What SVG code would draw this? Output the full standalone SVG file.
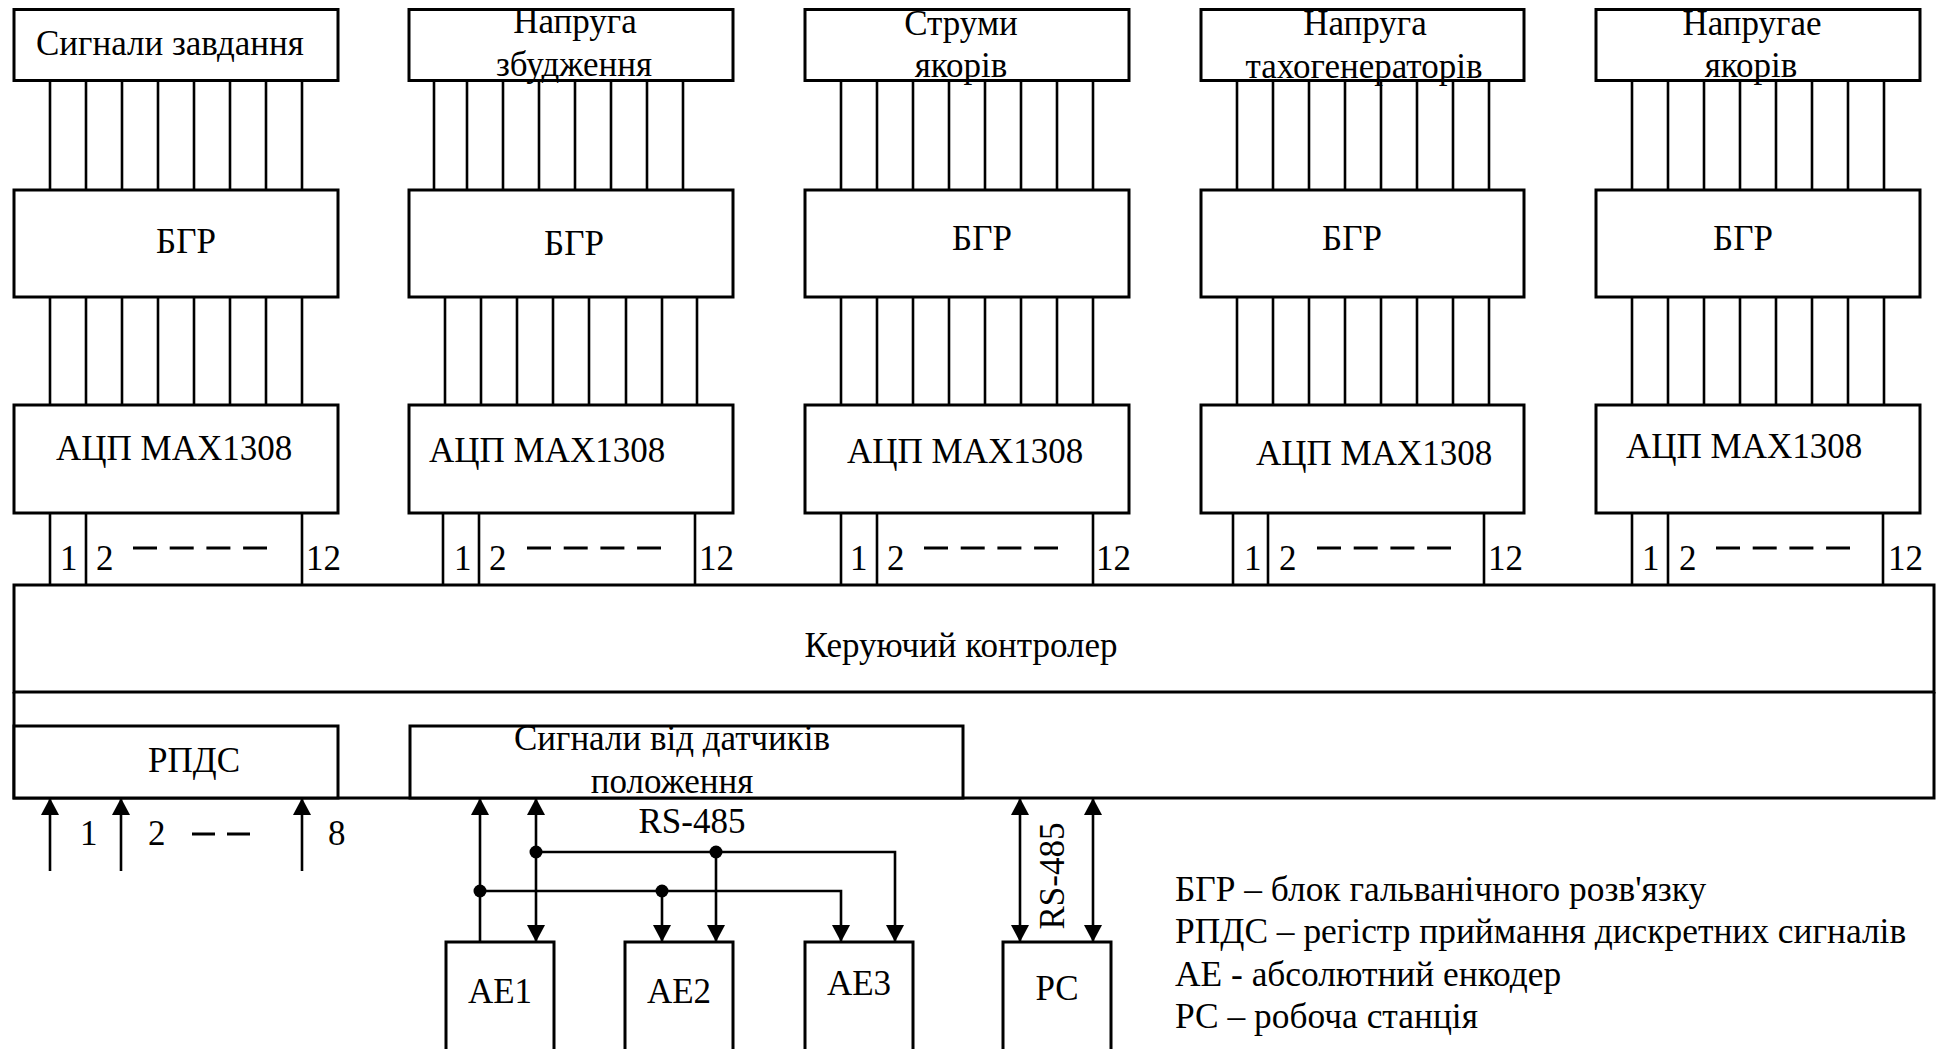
<svg xmlns="http://www.w3.org/2000/svg" width="1944" height="1049" viewBox="0 0 1944 1049">
<style>
.box{fill:#fff;stroke:#000;stroke-width:3}
.fr{fill:none;stroke:#000;stroke-width:3}
.w{stroke:#000;stroke-width:2.6;fill:none}
.d{stroke:#000;stroke-width:3;fill:none}
.t{font-family:"Liberation Serif","Times New Roman",serif;font-size:35px;fill:#000}
.m{text-anchor:middle}
.arr{stroke:#000;stroke-width:2.6;fill:none;marker-end:url(#ah)}
.arr2{stroke:#000;stroke-width:2.6;fill:none;marker-start:url(#ah);marker-end:url(#ah)}
</style>
<defs>
<marker id="ah" viewBox="0 0 17 18" refX="17" refY="9" markerWidth="17" markerHeight="18" markerUnits="userSpaceOnUse" orient="auto-start-reverse">
<path d="M0,0 L17,9 L0,18 z" fill="#000"/>
</marker>
</defs>
<rect width="1944" height="1049" fill="#fff"/>

<g id="connectors">
<!-- column 1 -->
<path class="w" d="M50,81V190M86,81V190M122,81V190M158,81V190M194,81V190M230,81V190M266,81V190M302,81V190"/>
<path class="w" d="M50,297V405M86,297V405M122,297V405M158,297V405M194,297V405M230,297V405M266,297V405M302,297V405"/>
<path class="w" d="M50,513V585M86,513V585M302,513V585"/>
<!-- column 2 -->
<path class="w" d="M434,81V190M467,81V190M503,81V190M539,81V190M575,81V190M611,81V190M647,81V190M683,81V190"/>
<path class="w" d="M445,297V405M481,297V405M517,297V405M553,297V405M589,297V405M626,297V405M662,297V405M697,297V405"/>
<path class="w" d="M443,513V585M479,513V585M695,513V585"/>
<!-- column 3 -->
<path class="w" d="M841,81V190M877,81V190M913,81V190M949,81V190M985,81V190M1021,81V190M1057,81V190M1093,81V190"/>
<path class="w" d="M841,297V405M877,297V405M913,297V405M949,297V405M985,297V405M1021,297V405M1057,297V405M1093,297V405"/>
<path class="w" d="M841,513V585M877,513V585M1093,513V585"/>
<!-- column 4 -->
<path class="w" d="M1237,81V190M1273,81V190M1309,81V190M1345,81V190M1381,81V190M1417,81V190M1453,81V190M1489,81V190"/>
<path class="w" d="M1237,297V405M1273,297V405M1309,297V405M1345,297V405M1381,297V405M1417,297V405M1453,297V405M1489,297V405"/>
<path class="w" d="M1233,513V585M1268,513V585M1484,513V585"/>
<!-- column 5 -->
<path class="w" d="M1632,81V190M1668,81V190M1704,81V190M1740,81V190M1776,81V190M1812,81V190M1848,81V190M1884,81V190"/>
<path class="w" d="M1632,297V405M1668,297V405M1704,297V405M1740,297V405M1776,297V405M1812,297V405M1848,297V405M1884,297V405"/>
<path class="w" d="M1632,513V585M1668,513V585M1883,513V585"/>
<!-- dashes between pins -->
<path class="d" stroke-dasharray="24 12.7" d="M133,548H267M527,548H661M924,548H1058M1317,548H1451M1716,548H1850"/>
<!-- RPDS inputs -->
<path class="arr" d="M50,871V798"/>
<path class="arr" d="M121,871V798"/>
<path class="arr" d="M302,871V798"/>
<path class="d" stroke-dasharray="23 12" d="M192,834H250"/>
<!-- encoders bus -->
<path class="arr" d="M480,942V798"/>
<path class="arr2" d="M536,798V942"/>
<path class="arr" d="M536,852H895V942"/>
<path class="arr" d="M716,852V942"/>
<path class="arr" d="M480,891H841V942"/>
<path class="arr" d="M662,891V942"/>
<circle cx="536" cy="852" r="6.5"/>
<circle cx="716" cy="852" r="6.5"/>
<circle cx="480" cy="891" r="6.5"/>
<circle cx="662" cy="891" r="6.5"/>
<!-- workstation -->
<path class="arr2" d="M1020,798V942"/>
<path class="arr2" d="M1093,798V942"/>
</g>

<g id="col1">
<g id="sig1"><rect class="box" x="14" y="9.5" width="324" height="71"/><text class="t" x="36" y="55">Сигнали завдання</text></g>
<g id="bgr1"><rect class="box" x="14" y="190" width="324" height="107"/><text class="t m" x="186" y="253">БГР</text></g>
<g id="adc1"><rect class="box" x="14" y="405" width="324" height="108"/><text class="t" x="56" y="460">АЦП MAX1308</text>
<text class="t" x="60" y="570">1</text><text class="t" x="96" y="570">2</text><text class="t" x="306" y="570">12</text></g>
</g>

<g id="col2">
<g id="sig2"><rect class="box" x="409" y="9.5" width="324" height="71"/><text class="t m" x="575" y="33">Напруга</text><text class="t m" x="574" y="76">збудження</text></g>
<g id="bgr2"><rect class="box" x="409" y="190" width="324" height="107"/><text class="t m" x="574" y="255">БГР</text></g>
<g id="adc2"><rect class="box" x="409" y="405" width="324" height="108"/><text class="t" x="429" y="462">АЦП MAX1308</text>
<text class="t" x="454" y="570">1</text><text class="t" x="489" y="570">2</text><text class="t" x="699" y="570">12</text></g>
</g>

<g id="col3">
<g id="sig3"><rect class="box" x="805" y="9.5" width="324" height="71"/><text class="t m" x="961" y="35">Струми</text><text class="t m" x="961" y="77">якорів</text></g>
<g id="bgr3"><rect class="box" x="805" y="190" width="324" height="107"/><text class="t m" x="982" y="250">БГР</text></g>
<g id="adc3"><rect class="box" x="805" y="405" width="324" height="108"/><text class="t" x="847" y="463">АЦП MAX1308</text>
<text class="t" x="850" y="570">1</text><text class="t" x="887" y="570">2</text><text class="t" x="1096" y="570">12</text></g>
</g>

<g id="col4">
<g id="sig4"><rect class="box" x="1201" y="9.5" width="323" height="71"/><text class="t m" x="1365" y="35">Напруга</text><text class="t m" x="1364" y="78">тахогенераторів</text></g>
<g id="bgr4"><rect class="box" x="1201" y="190" width="323" height="107"/><text class="t m" x="1352" y="250">БГР</text></g>
<g id="adc4"><rect class="box" x="1201" y="405" width="323" height="108"/><text class="t" x="1256" y="465">АЦП MAX1308</text>
<text class="t" x="1244" y="570">1</text><text class="t" x="1279" y="570">2</text><text class="t" x="1488" y="570">12</text></g>
</g>

<g id="col5">
<g id="sig5"><rect class="box" x="1596" y="9.5" width="324" height="71"/><text class="t m" x="1752" y="35">Напругае</text><text class="t m" x="1751" y="77">якорів</text></g>
<g id="bgr5"><rect class="box" x="1596" y="190" width="324" height="107"/><text class="t m" x="1743" y="250">БГР</text></g>
<g id="adc5"><rect class="box" x="1596" y="405" width="324" height="108"/><text class="t" x="1626" y="458">АЦП MAX1308</text>
<text class="t" x="1642" y="570">1</text><text class="t" x="1679" y="570">2</text><text class="t" x="1888" y="570">12</text></g>
</g>

<g id="controller">
<rect class="box" x="14" y="585" width="1920" height="107"/>
<path class="fr" d="M14,692V798H1934V692"/>
<text class="t m" x="961" y="657">Керуючий контролер</text>
</g>

<g id="rpds"><rect class="box" x="14" y="726" width="324" height="72"/><text class="t m" x="194" y="772">РПДС</text>
<text class="t" x="80" y="845">1</text><text class="t" x="148" y="845">2</text><text class="t" x="328" y="845">8</text></g>

<g id="sensors"><rect class="box" x="410" y="726" width="553" height="72"/><text class="t m" x="672" y="750">Сигнали від датчиків</text><text class="t m" x="672" y="793">положення</text></g>

<text class="t m" x="692" y="833">RS-485</text>

<g id="ae1"><rect class="box" x="446" y="942" width="108" height="120"/><text class="t m" x="500" y="1003">АЕ1</text></g>
<g id="ae2"><rect class="box" x="625" y="942" width="108" height="120"/><text class="t m" x="679" y="1003">АЕ2</text></g>
<g id="ae3"><rect class="box" x="805" y="942" width="108" height="120"/><text class="t m" x="859" y="995">АЕ3</text></g>
<g id="pc"><rect class="box" x="1003" y="942" width="108" height="120"/><text class="t m" x="1057" y="1000">РС</text></g>

<text class="t m" transform="translate(1064,876) rotate(-90)">RS-485</text>

<g id="legend" style="font-size:35.4px">
<text class="t" x="1175" y="901" style="font-size:35.4px">БГР – блок гальванічного розв'язку</text>
<text class="t" x="1175" y="943" style="font-size:35.4px">РПДС – регістр приймання дискретних сигналів</text>
<text class="t" x="1175" y="986" style="font-size:35.4px">АЕ - абсолютний енкодер</text>
<text class="t" x="1175" y="1028" style="font-size:35.4px">РС – робоча станція</text>
</g>
</svg>
